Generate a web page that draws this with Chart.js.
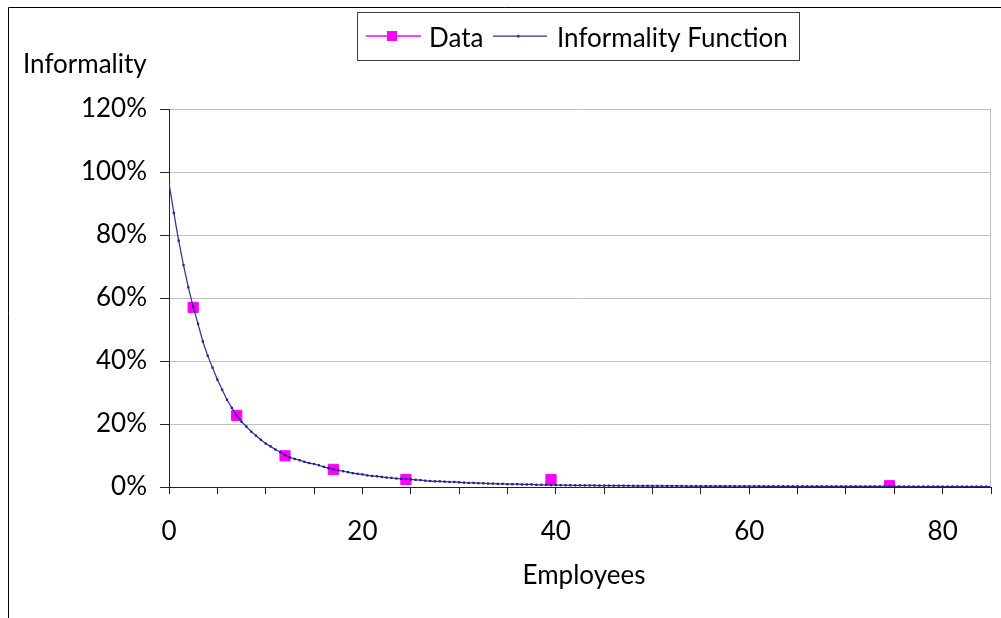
<!DOCTYPE html>
<html>
<head>
<meta charset="utf-8">
<script src="https://cdn.jsdelivr.net/npm/chart.js@4.4.1/dist/chart.umd.min.js"></script>
<style>
  html, body { margin: 0; padding: 0; background: #fff; }
</style>
</head>
<body>
<canvas id="myChart" width="1001" height="618"></canvas>
<script>
// observed data (employee size classes)
let dataEmployees = [2.5, 7, 12, 17, 24.5, 39.5, 74.5]
let dataInformality = [57.0, 22.7, 9.9, 5.6, 2.4, 2.4, 0.4]

// informality function, every half employee
let fnEmployees = [
  0, 0.5, 1, 1.5, 2, 2.5, 3, 3.5, 4, 4.5, 5, 5.5, 6, 6.5, 7, 7.5, 8, 8.5, 9, 9.5,
  10, 10.5, 11, 11.5, 12, 12.5, 13, 13.5, 14, 14.5, 15, 15.5, 16, 16.5, 17, 17.5, 18, 18.5, 19, 19.5,
  20, 20.5, 21, 21.5, 22, 22.5, 23, 23.5, 24, 24.5, 25, 25.5, 26, 26.5, 27, 27.5, 28, 28.5, 29, 29.5,
  30, 30.5, 31, 31.5, 32, 32.5, 33, 33.5, 34, 34.5, 35, 35.5, 36, 36.5, 37, 37.5, 38, 38.5, 39, 39.5,
  40, 40.5, 41, 41.5, 42, 42.5, 43, 43.5, 44, 44.5, 45, 45.5, 46, 46.5, 47, 47.5, 48, 48.5, 49, 49.5,
  50, 50.5, 51, 51.5, 52, 52.5, 53, 53.5, 54, 54.5, 55, 55.5, 56, 56.5, 57, 57.5, 58, 58.5, 59, 59.5,
  60, 60.5, 61, 61.5, 62, 62.5, 63, 63.5, 64, 64.5, 65, 65.5, 66, 66.5, 67, 67.5, 68, 68.5, 69, 69.5,
  70, 70.5, 71, 71.5, 72, 72.5, 73, 73.5, 74, 74.5, 75, 75.5, 76, 76.5, 77, 77.5, 78, 78.5, 79, 79.5,
  80, 80.5, 81, 81.5, 82, 82.5, 83, 83.5, 84, 84.5, 85
]
let fnInformality = [
  96.5, 87.0, 78.2, 70.4, 63.4, 57.2, 51.8, 46.2, 41.7, 37.9, 34.1, 30.9, 27.7, 25.1, 22.7, 20.7, 19.2, 17.6, 16.3, 15.0,
  13.8, 12.9, 11.9, 11.1, 10.1, 9.4, 8.9, 8.5, 8.0, 7.6, 7.3, 6.9, 6.4, 6.0, 5.6, 5.3, 5.0, 4.7, 4.4, 4.2,
  4.0, 3.7, 3.5, 3.4, 3.2, 3.0, 2.9, 2.7, 2.6, 2.5, 2.4, 2.3, 2.2, 2.0, 1.9, 1.8, 1.8, 1.7, 1.6, 1.6,
  1.5, 1.4, 1.3, 1.3, 1.2, 1.2, 1.1, 1.1, 1.0, 1.0, 0.9, 0.9, 0.9, 0.8, 0.8, 0.8, 0.7, 0.7, 0.7, 0.6,
  0.6, 0.58, 0.56, 0.55, 0.53, 0.52, 0.50, 0.49, 0.48, 0.47, 0.45, 0.44, 0.43, 0.42, 0.41, 0.40, 0.39, 0.38, 0.37, 0.37,
  0.36, 0.35, 0.34, 0.34, 0.33, 0.32, 0.32, 0.31, 0.30, 0.30, 0.29, 0.29, 0.28, 0.28, 0.27, 0.27, 0.26, 0.26, 0.25, 0.25,
  0.24, 0.24, 0.24, 0.23, 0.23, 0.23, 0.22, 0.22, 0.22, 0.21, 0.21, 0.21, 0.20, 0.20, 0.20, 0.19, 0.19, 0.19, 0.19, 0.18,
  0.18, 0.18, 0.18, 0.17, 0.17, 0.17, 0.17, 0.16, 0.16, 0.16, 0.16, 0.16, 0.15, 0.15, 0.15, 0.15, 0.15, 0.14, 0.14, 0.14,
  0.14, 0.14, 0.14, 0.13, 0.13, 0.13, 0.13, 0.13, 0.13, 0.12, 0.12
]

let xTitle = 'Employees'
let yTitle = 'Informality'
let seriesNames = ['Data', 'Informality Function']

const FONT = '26px Lato'
const dataColor = '#ff00ff'
const fnColor = '#333399'

function toPoints(xs, ys) {
  return xs.map((x, i) => ({ x: x, y: ys[i] }))
}

// frame, titles and the boxed legend like the spreadsheet original
const decorations = {
  id: 'decorations',
  afterDraw(chart) {
    const ctx = chart.ctx
    const area = chart.chartArea
    ctx.save()

    // right edge of the plot area
    ctx.strokeStyle = '#bfbfbf'
    ctx.lineWidth = 1
    ctx.beginPath()
    ctx.moveTo(area.right - 0.5, area.top)
    ctx.lineTo(area.right - 0.5, area.bottom)
    ctx.stroke()

    // outer chart frame (top and left are visible)
    ctx.strokeStyle = '#000'
    ctx.beginPath()
    ctx.moveTo(1001, 7.5)
    ctx.lineTo(8.5, 7.5)
    ctx.lineTo(8.5, 618)
    ctx.stroke()

    // axis titles
    ctx.fillStyle = '#000'
    ctx.font = FONT
    ctx.textBaseline = 'alphabetic'
    ctx.textAlign = 'left'
    ctx.fillText(yTitle, 23, 73)
    ctx.textAlign = 'center'
    ctx.fillText(xTitle, 584, 583.5)

    // legend box
    ctx.strokeStyle = '#404040'
    ctx.strokeRect(357.5, 12.5, 442, 48)
    const ly = 36
    ctx.lineWidth = 1.5
    ctx.strokeStyle = dataColor
    ctx.beginPath(); ctx.moveTo(366, ly); ctx.lineTo(421, ly); ctx.stroke()
    ctx.fillStyle = dataColor
    ctx.fillRect(387, ly - 5, 10, 10)
    ctx.strokeStyle = fnColor
    ctx.lineWidth = 1.25
    ctx.beginPath(); ctx.moveTo(493, ly); ctx.lineTo(547, ly); ctx.stroke()
    ctx.fillStyle = fnColor
    ctx.fillRect(517, ly - 1, 2.5, 2.5)

    ctx.fillStyle = '#000'
    ctx.textAlign = 'left'
    ctx.fillText(seriesNames[0], 429, 46.5)
    ctx.fillText(seriesNames[1], 557, 46.5)
    ctx.restore()
  }
}

Chart.defaults.font.family = 'Lato'
Chart.defaults.font.size = 26
Chart.defaults.color = '#000'

let myChart = document.getElementById('myChart').getContext('2d')
let informality = new Chart(myChart, {
  type: 'scatter',
  data: {
    datasets: [
      {
        label: seriesNames[0],
        data: toPoints(dataEmployees, dataInformality),
        showLine: false,
        pointStyle: 'rect',
        pointRadius: 7.2,
        pointHoverRadius: 7.2,
        pointBackgroundColor: dataColor,
        pointBorderColor: dataColor,
        pointBorderWidth: 1,
        order: 2
      },
      {
        label: seriesNames[1],
        data: toPoints(fnEmployees, fnInformality),
        showLine: true,
        borderColor: fnColor,
        borderWidth: 1.25,
        tension: 0,
        pointStyle: 'rect',
        pointRadius: 1.6,
        pointHoverRadius: 1.6,
        pointBackgroundColor: '#1f1f8a',
        pointBorderWidth: 0,
        order: 1
      }
    ]
  },
  options: {
    responsive: false,
    animation: false,
    events: [],
    layout: { padding: { top: 109, right: 10, left: 0, bottom: 0 } },
    plugins: {
      legend: { display: false },
      tooltip: { enabled: false }
    },
    scales: {
      x: {
        type: 'linear',
        min: 0,
        max: 85,
        afterFit: (scale) => {
          scale.height = 131
          // the tick padding would otherwise eat into the right margin
          scale.paddingLeft = 0
          scale.paddingRight = 0
        },
        ticks: {
          stepSize: 5,
          autoSkip: false,
          maxRotation: 0,
          padding: 22,
          callback: (v) => (v % 20 === 0 ? v : '')
        },
        grid: {
          drawOnChartArea: false,
          tickLength: 7,
          tickColor: '#222'
        },
        border: { color: '#222', width: 1 }
      },
      y: {
        min: 0,
        max: 120,
        afterFit: (scale) => { scale.width = 169 },
        ticks: {
          stepSize: 20,
          padding: 13,
          callback: (v) => v + '%'
        },
        grid: {
          color: '#bfbfbf',
          tickLength: 9,
          tickColor: '#222'
        },
        border: { color: '#222', width: 1 }
      }
    }
  },
  plugins: [decorations]
})
</script>
</body>
</html>
